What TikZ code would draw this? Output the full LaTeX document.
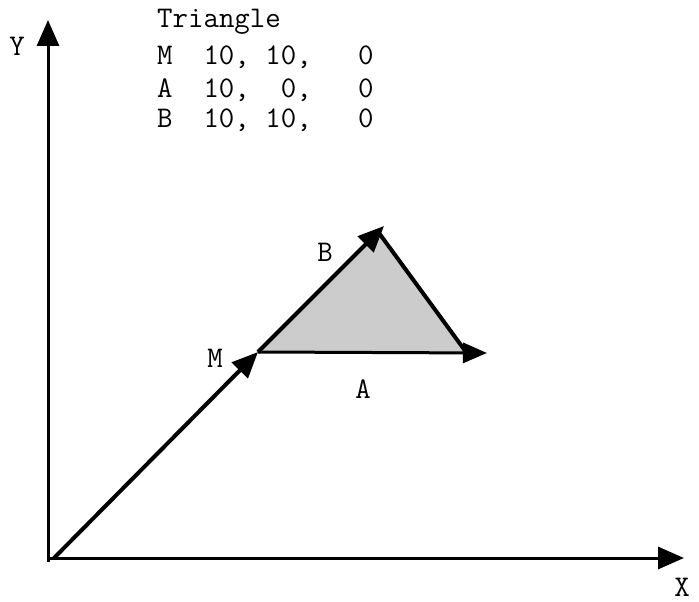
\documentclass[tikz,border=0pt]{standalone}
\usetikzlibrary{arrows.meta}
\begin{document}
\begin{tikzpicture}[x=1pt,y=-1pt,
  lbl/.style={font=\fontsize{30}{30}\selectfont\ttfamily, inner sep=0pt},
  txt/.style={lbl, anchor=base west},
  axis/.style={line width=3pt, -{Triangle[length=26pt,width=22pt]}},
  vec/.style={line width=4pt, -{Triangle[length=26pt,width=22pt]}}]
\useasboundingbox (0,0) rectangle (699,602);
\coordinate (O) at (48,558);
\coordinate (Ytip) at (48,20);
\coordinate (Xtip) at (684,558);
\coordinate (M) at (258,352);
\coordinate (T) at (379,233);
\coordinate (R) at (466,352);
\coordinate (Btip) at (384,226);
\coordinate (Atip) at (487,353);
\fill[gray!40] (M) -- (T) -- (R) -- cycle;
\draw[line width=4pt] (T) -- (R);
\draw[axis] (48,562) -- (Ytip);
\draw[axis] (O) -- (Xtip);
\draw[vec] (54,558) -- (M);
\draw[vec] (M) -- (Btip);
\draw[line width=3pt, -{Triangle[length=24pt,width=20pt]}] (M) -- (Atip);
\node[lbl] (Ylab) at (17,46) {Y};
\node[lbl] (Xlab) at (682,587) {X};
\node[lbl] (Mlab) at (215,358) {M};
\node[lbl] (Blab) at (325,252) {B};
\node[lbl] (Alab) at (363,389) {A};
\node[txt] (t0) at (157,28) {Triangle};
\node[txt] (t1) at (157,65) {M\ \ 10,\ 10,\ \ \ 0};
\node[txt] (t2) at (157,97) {A\ \ 10,\ \ 0,\ \ \ 0};
\node[txt] (t3) at (157,128) {B\ \ 10,\ 10,\ \ \ 0};
\end{tikzpicture}
\end{document}
